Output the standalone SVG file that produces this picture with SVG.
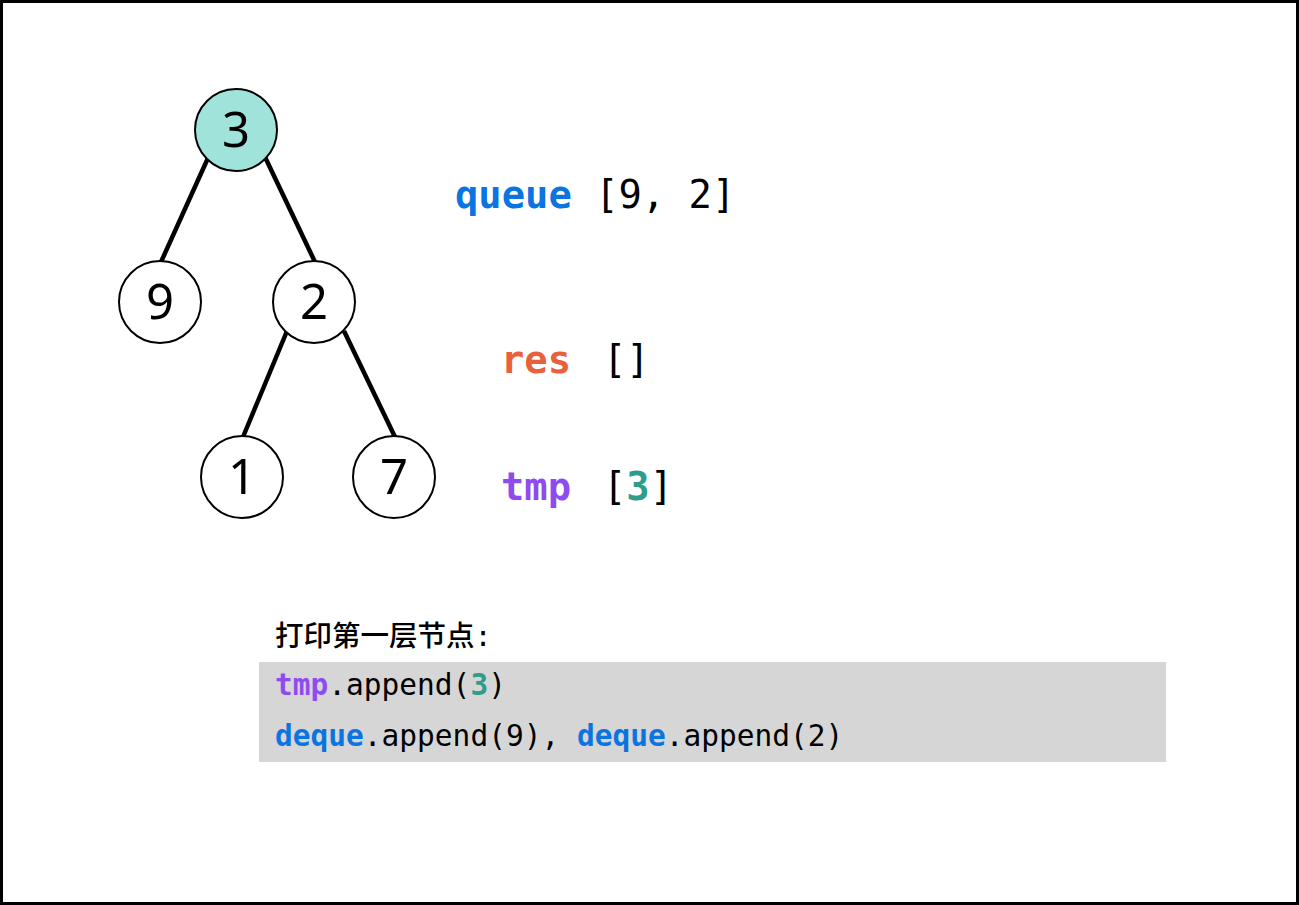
<svg xmlns="http://www.w3.org/2000/svg" width="1299" height="905" viewBox="0 0 1299 905">
<style>
.node circle{fill:#fff;stroke:#000;stroke-width:2}
.node text{font-family:"Noto Sans","DejaVu Sans",sans-serif;font-size:49px;text-anchor:middle;fill:#000}
.edges line{stroke:#000;stroke-width:4.5;stroke-linecap:butt}
.mono{font-family:"DejaVu Sans Mono","Liberation Mono",monospace}
.big{font-size:38.8px}
.code{font-size:29.5px}
.b{font-weight:bold}
.blue{fill:#0A74E0}
.red{fill:#E8603C}
.purple{fill:#8E4BEF}
.teal{fill:#2E9E8C}
</style>
<rect x="1.5" y="1.5" width="1296" height="902" fill="#fff" stroke="#000" stroke-width="3"/>
<g class="edges">
<line x1="208" y1="158" x2="161" y2="262"/>
<line x1="265" y1="157" x2="315" y2="262"/>
<line x1="287" y1="331" x2="243" y2="437"/>
<line x1="344" y1="331" x2="395" y2="437"/>
</g>
<g id="n3" class="node"><circle cx="236" cy="130" r="41" style="fill:#9FE3DA"/><text x="236" y="147">3</text></g>
<g id="n9" class="node"><circle cx="160" cy="302" r="41"/><text x="160" y="319">9</text></g>
<g id="n2" class="node"><circle cx="314" cy="302" r="41"/><text x="314" y="319">2</text></g>
<g id="n1" class="node"><circle cx="242" cy="477" r="41"/><text x="242" y="494">1</text></g>
<g id="n7" class="node"><circle cx="394" cy="477" r="41"/><text x="394" y="494">7</text></g>
<g id="vars">
<text class="mono big" x="455" y="208"><tspan class="b blue">queue</tspan> [9, 2]</text>
<text class="mono big b red" x="501" y="373">res</text>
<text class="mono big" x="603" y="373">[]</text>
<text class="mono big b purple" x="501" y="500">tmp</text>
<text class="mono big" x="603" y="500">[<tspan class="b teal">3</tspan>]</text>
</g>
<g id="codebox">
<text x="275" y="646" font-family="'DejaVu Sans Mono','Noto Sans CJK SC',monospace" font-size="28.5" font-weight="500">打印第一层节点:</text>
<rect x="259" y="662" width="907" height="100" fill="#D6D6D6"/>
<text class="mono code" x="275" y="695"><tspan class="b purple">tmp</tspan>.append(<tspan class="b teal">3</tspan>)</text>
<text class="mono code" x="275" y="746"><tspan class="b blue">deque</tspan>.append(9), <tspan class="b blue">deque</tspan>.append(2)</text>
</g>
</svg>
